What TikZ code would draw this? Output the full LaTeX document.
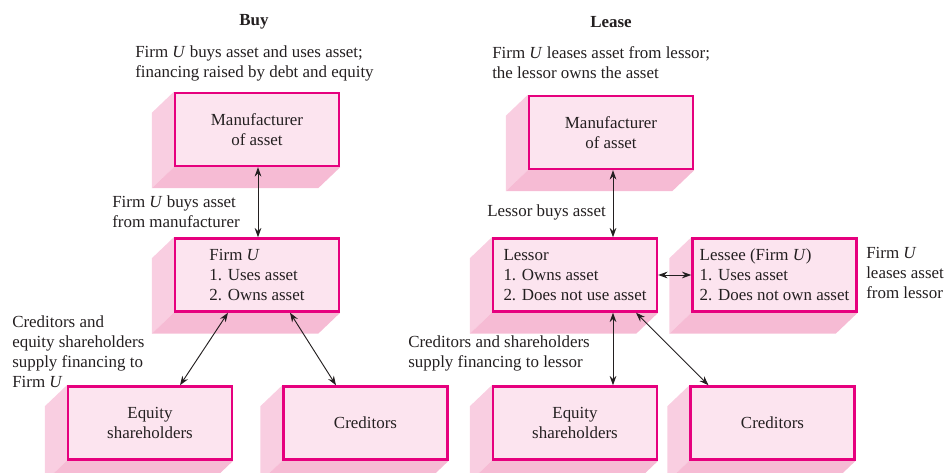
\documentclass[tikz,border=0pt]{standalone}
\usepackage{fontspec}
\setmainfont{Liberation Serif}
\usetikzlibrary{arrows.meta,calc}
\definecolor{ink}{RGB}{35,31,32}
\definecolor{rim}{RGB}{230,0,126}
\definecolor{face}{RGB}{252,228,239}
\definecolor{sideface}{RGB}{249,206,225}
\definecolor{baseface}{RGB}{246,187,212}
\pgfdeclarelayer{back}
\pgfsetlayers{back,main}
% pinkish slab seen from the front, with its depth drawn down and to the left
\newcommand\extrude[1]{%
  \begin{pgfonlayer}{back}
    \fill[sideface] (#1.north west) -- ++(-22,21) -- ($(#1.south west)+(-22,21)$) -- (#1.south west) -- cycle;
    \fill[baseface] (#1.south west) -- ++(-22,21) -- ($(#1.south east)+(-22,21)$) -- (#1.south east) -- cycle;
  \end{pgfonlayer}}
\begin{document}
\begin{tikzpicture}[x=0.75pt,y=-0.75pt,
  every node/.style={font=\fontsize{12.7}{15}\selectfont, text=ink},
  slab/.style={draw=rim, line width=1.8pt, fill=face, inner sep=0pt,
    minimum width=123pt, minimum height=54.75pt, align=left},
  note/.style={inner sep=0pt, anchor=west, align=left},
  dbl/.style={{Stealth[length=7pt,width=5pt]}-{Stealth[length=7pt,width=5pt]}, line width=0.7pt, draw=ink}]
\useasboundingbox (0,0) rectangle (946,473);

% headings and descriptions
\node[font=\fontsize{12.7}{15}\selectfont\bfseries] (hbuy) at (254,22) {Buy};
\node[font=\fontsize{12.7}{15}\selectfont\bfseries] (hlease) at (611,22) {Lease};
\node[note] (dbuy) at (135,63) {Firm \textit{U} buys asset and uses asset;\\financing raised by debt and equity};
\node[note] (dlease) at (492,63) {Firm \textit{U} leases asset from lessor;\\the lessor owns the asset};

% buy side
\node[slab, align=center] (mbuy) at (257,129.5) {Manufacturer\\of asset};
\node[slab] (firm) at (257,275) {Firm \textit{U}\\1. Uses asset\\2. Owns asset};
\node[slab, align=center] (eqbuy) at (150,423) {Equity\\shareholders};
\node[slab] (crbuy) at (365.5,423) {Creditors};
\extrude{mbuy}\extrude{firm}\extrude{eqbuy}\extrude{crbuy}

% lease side
\node[slab, align=center] (mlease) at (611,132.5) {Manufacturer\\of asset};
\node[slab] (lessor) at (575,275) {Lessor\\1. Owns asset\\2. Does not use asset};
\node[slab] (lessee) at (774.5,275) {Lessee (Firm \textit{U})\\1. Uses asset\\2. Does not own asset};
\node[slab, align=center] (eqlease) at (575,423) {Equity\\shareholders};
\node[slab] (crlease) at (772.5,423) {Creditors};
\extrude{mlease}\extrude{lessor}\extrude{lessee}\extrude{eqlease}\extrude{crlease}

% labels
\node[note] (lbuyfrom) at (112,212) {Firm \textit{U} buys asset\\from manufacturer};
\node[note] (llessorbuys) at (487,212) {Lessor buys asset};
\node[note] (lfinbuy) at (12,352) {Creditors and\\equity shareholders\\supply financing to\\Firm \textit{U}};
\node[note] (lfinlease) at (408,353.5) {Creditors and shareholders\\supply financing to lessor};
\node[note] (lleases) at (866,273) {Firm \textit{U}\\leases asset\\from lessor};

% connectors
\draw[dbl] ([xshift=0.75pt]mbuy.south) -- ([xshift=0.75pt]firm.north);
\draw[dbl] ($(firm.south)+(-29,0)$) -- ($(eqbuy.north)+(30,0)$);
\draw[dbl] ($(firm.south)+(33,0)$) -- ($(crbuy.north)+(-29.5,0)$);
\draw[dbl] ($(lessor.north)+(38,0)$) coordinate (tl) -- (tl |- mlease.south);
\draw[dbl] (lessor.east) -- (lessee.west);
\draw[dbl] ($(lessor.south)+(38,0)$) -- ($(eqlease.north)+(38,0)$);
\draw[dbl] ($(lessor.south)+(61,0)$) -- ($(crlease.north)+(-64,0)$);
\end{tikzpicture}
\end{document}
